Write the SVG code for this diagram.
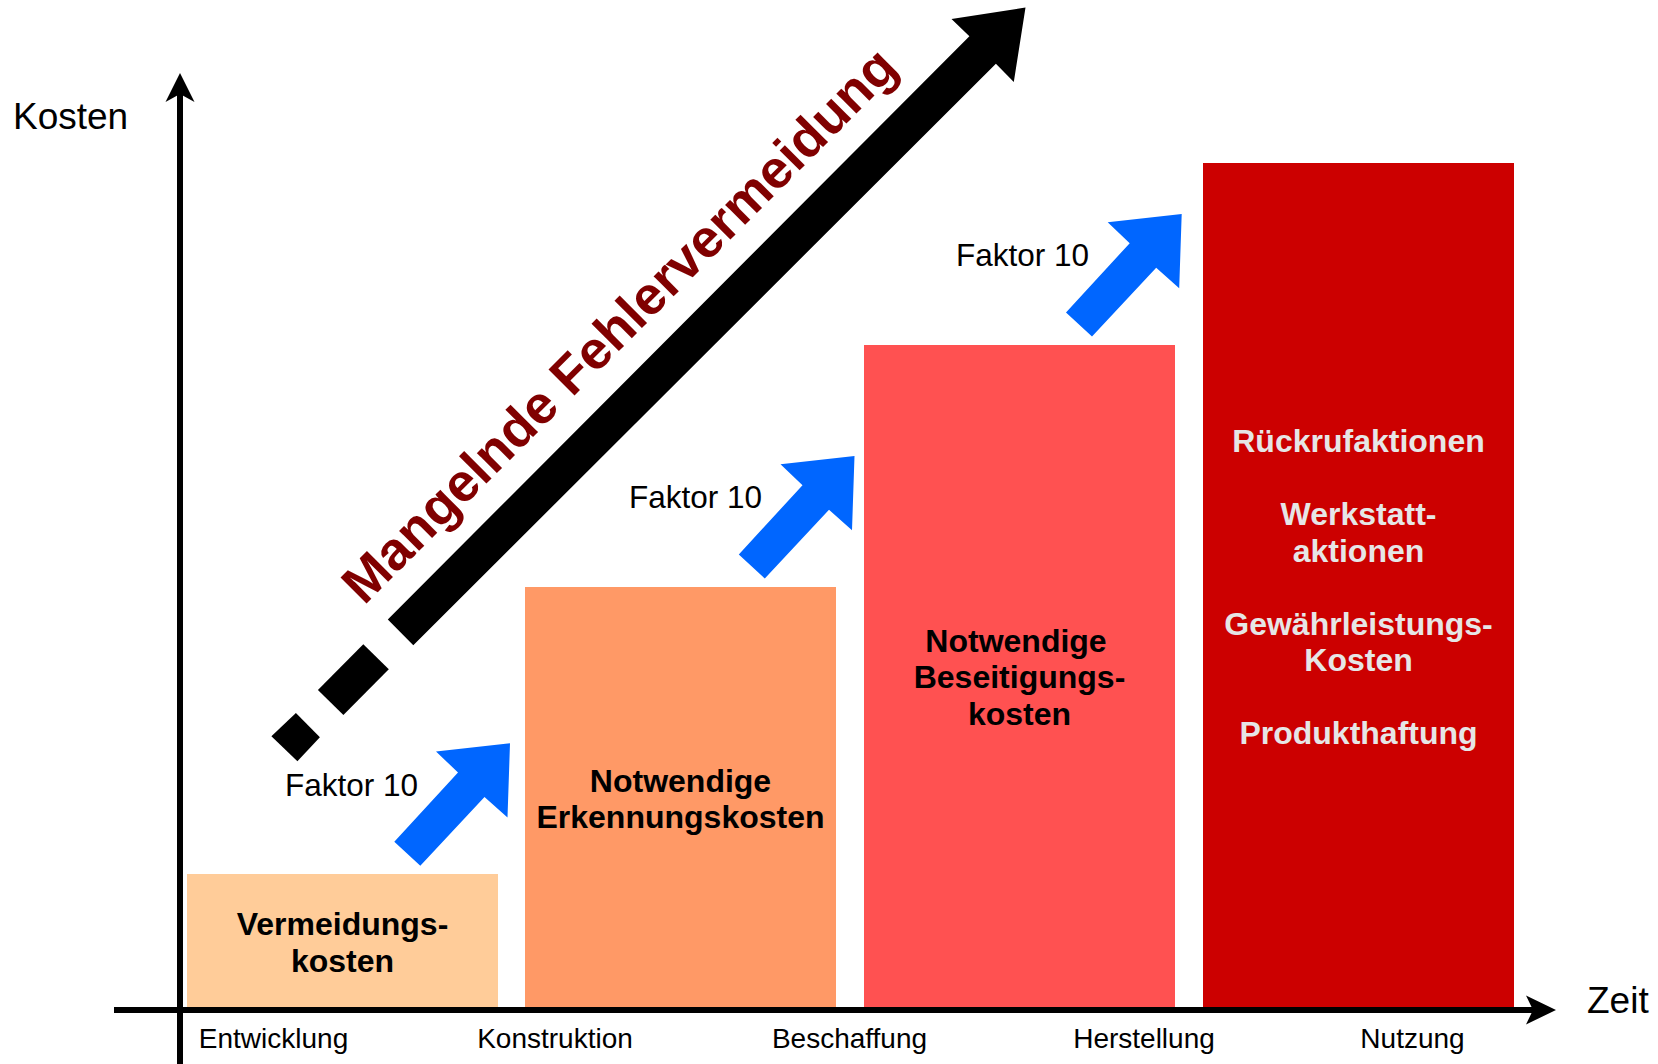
<svg xmlns="http://www.w3.org/2000/svg" width="1658" height="1064" viewBox="0 0 1658 1064">
<style>
.lbl{font-family:"Liberation Sans",Arial,sans-serif;fill:#000}
.ax{font-size:28px}
.big{font-size:37px}
.fk{font-size:31.5px}
.bt{font-family:"Liberation Sans",Arial,sans-serif;font-weight:bold;font-size:32px;text-anchor:middle;fill:#000}
.wt{fill:#E6E6E6}
.blue{fill:#0066FF}
</style>
<defs>
<path id="barrow" d="M0,0 L-2.5,74.3 L-25.5,53.8 L-89.7,122.5 L-115.7,98.5 L-52,29.2 L-74,8.2 Z"/>
</defs>
<rect width="1658" height="1064" fill="#fff"/>

<g id="bar1">
<rect x="187" y="874" width="311" height="133" fill="#FFCC99"/>
<text class="bt" x="342.5" y="935">Vermeidungs-</text>
<text class="bt" x="342.5" y="971.5">kosten</text>
</g>
<g id="bar2">
<rect x="525" y="587" width="311" height="420" fill="#FF9966"/>
<text class="bt" x="680.5" y="791.5">Notwendige</text>
<text class="bt" x="680.5" y="827.5">Erkennungskosten</text>
</g>
<g id="bar3">
<rect x="864" y="345" width="311" height="662" fill="#FF5151"/>
<text class="bt" x="1016" y="651.5">Notwendige</text>
<text class="bt" x="1019.5" y="688">Beseitigungs-</text>
<text class="bt" x="1019.5" y="724.5">kosten</text>
</g>
<g id="bar4">
<rect x="1203" y="163" width="311" height="844" fill="#CC0000"/>
<text class="bt wt" x="1358.5" y="452">Rückrufaktionen</text>
<text class="bt wt" x="1358.5" y="525">Werkstatt-</text>
<text class="bt wt" x="1358.5" y="561.5">aktionen</text>
<text class="bt wt" x="1358.5" y="634.5">Gewährleistungs-</text>
<text class="bt wt" x="1358.5" y="671">Kosten</text>
<text class="bt wt" x="1358.5" y="744">Produkthaftung</text>
</g>

<g id="axes">
<line x1="180" y1="1064" x2="180" y2="92" stroke="#000" stroke-width="6"/>
<path d="M180,73 L194.5,102 L180,94 L165.5,102 Z" fill="#000"/>
<line x1="114" y1="1010" x2="1535" y2="1010" stroke="#000" stroke-width="6"/>
<path d="M1556,1010 L1526,1024.5 L1533,1010 L1526,995.5 Z" fill="#000"/>
<text class="lbl big" x="13" y="129">Kosten</text>
<text class="lbl big" x="1587" y="1013">Zeit</text>
<text class="lbl ax" x="273.5" y="1048" text-anchor="middle">Entwicklung</text>
<text class="lbl ax" x="555" y="1048" text-anchor="middle">Konstruktion</text>
<text class="lbl ax" x="849.5" y="1048" text-anchor="middle">Beschaffung</text>
<text class="lbl ax" x="1144" y="1048" text-anchor="middle">Herstellung</text>
<text class="lbl ax" x="1412.5" y="1048" text-anchor="middle">Nutzung</text>
</g>

<g id="trend">
<polygon points="295.9,713 319.9,737.3 297.4,761.2 271.4,736.3" fill="#000"/>
<polygon points="363.3,644.3 388.8,669.2 343.4,714.9 317.9,690" fill="#000"/>
<polygon points="387.8,619.4 969.4,36.3 951.5,18.9 1025.5,7.5 1013.8,82.1 995.9,63.7 413.3,645.3" fill="#000"/>
<text transform="translate(364,606) rotate(-45)" font-family="'Liberation Sans',Arial,sans-serif" font-weight="bold" font-size="53.5" fill="#800000">Mangelnde Fehlervermeidung</text>
</g>

<g id="connectors">
<use href="#barrow" class="blue" transform="translate(510,743.3)"/>
<use href="#barrow" class="blue" transform="translate(854.5,456)"/>
<use href="#barrow" class="blue" transform="translate(1181.7,214)"/>
</g>
<g id="factor-labels">
<text class="lbl fk" x="285" y="795.5">Faktor 10</text>
<text class="lbl fk" x="629" y="507.5">Faktor 10</text>
<text class="lbl fk" x="956" y="265.5">Faktor 10</text>
</g>
</svg>
